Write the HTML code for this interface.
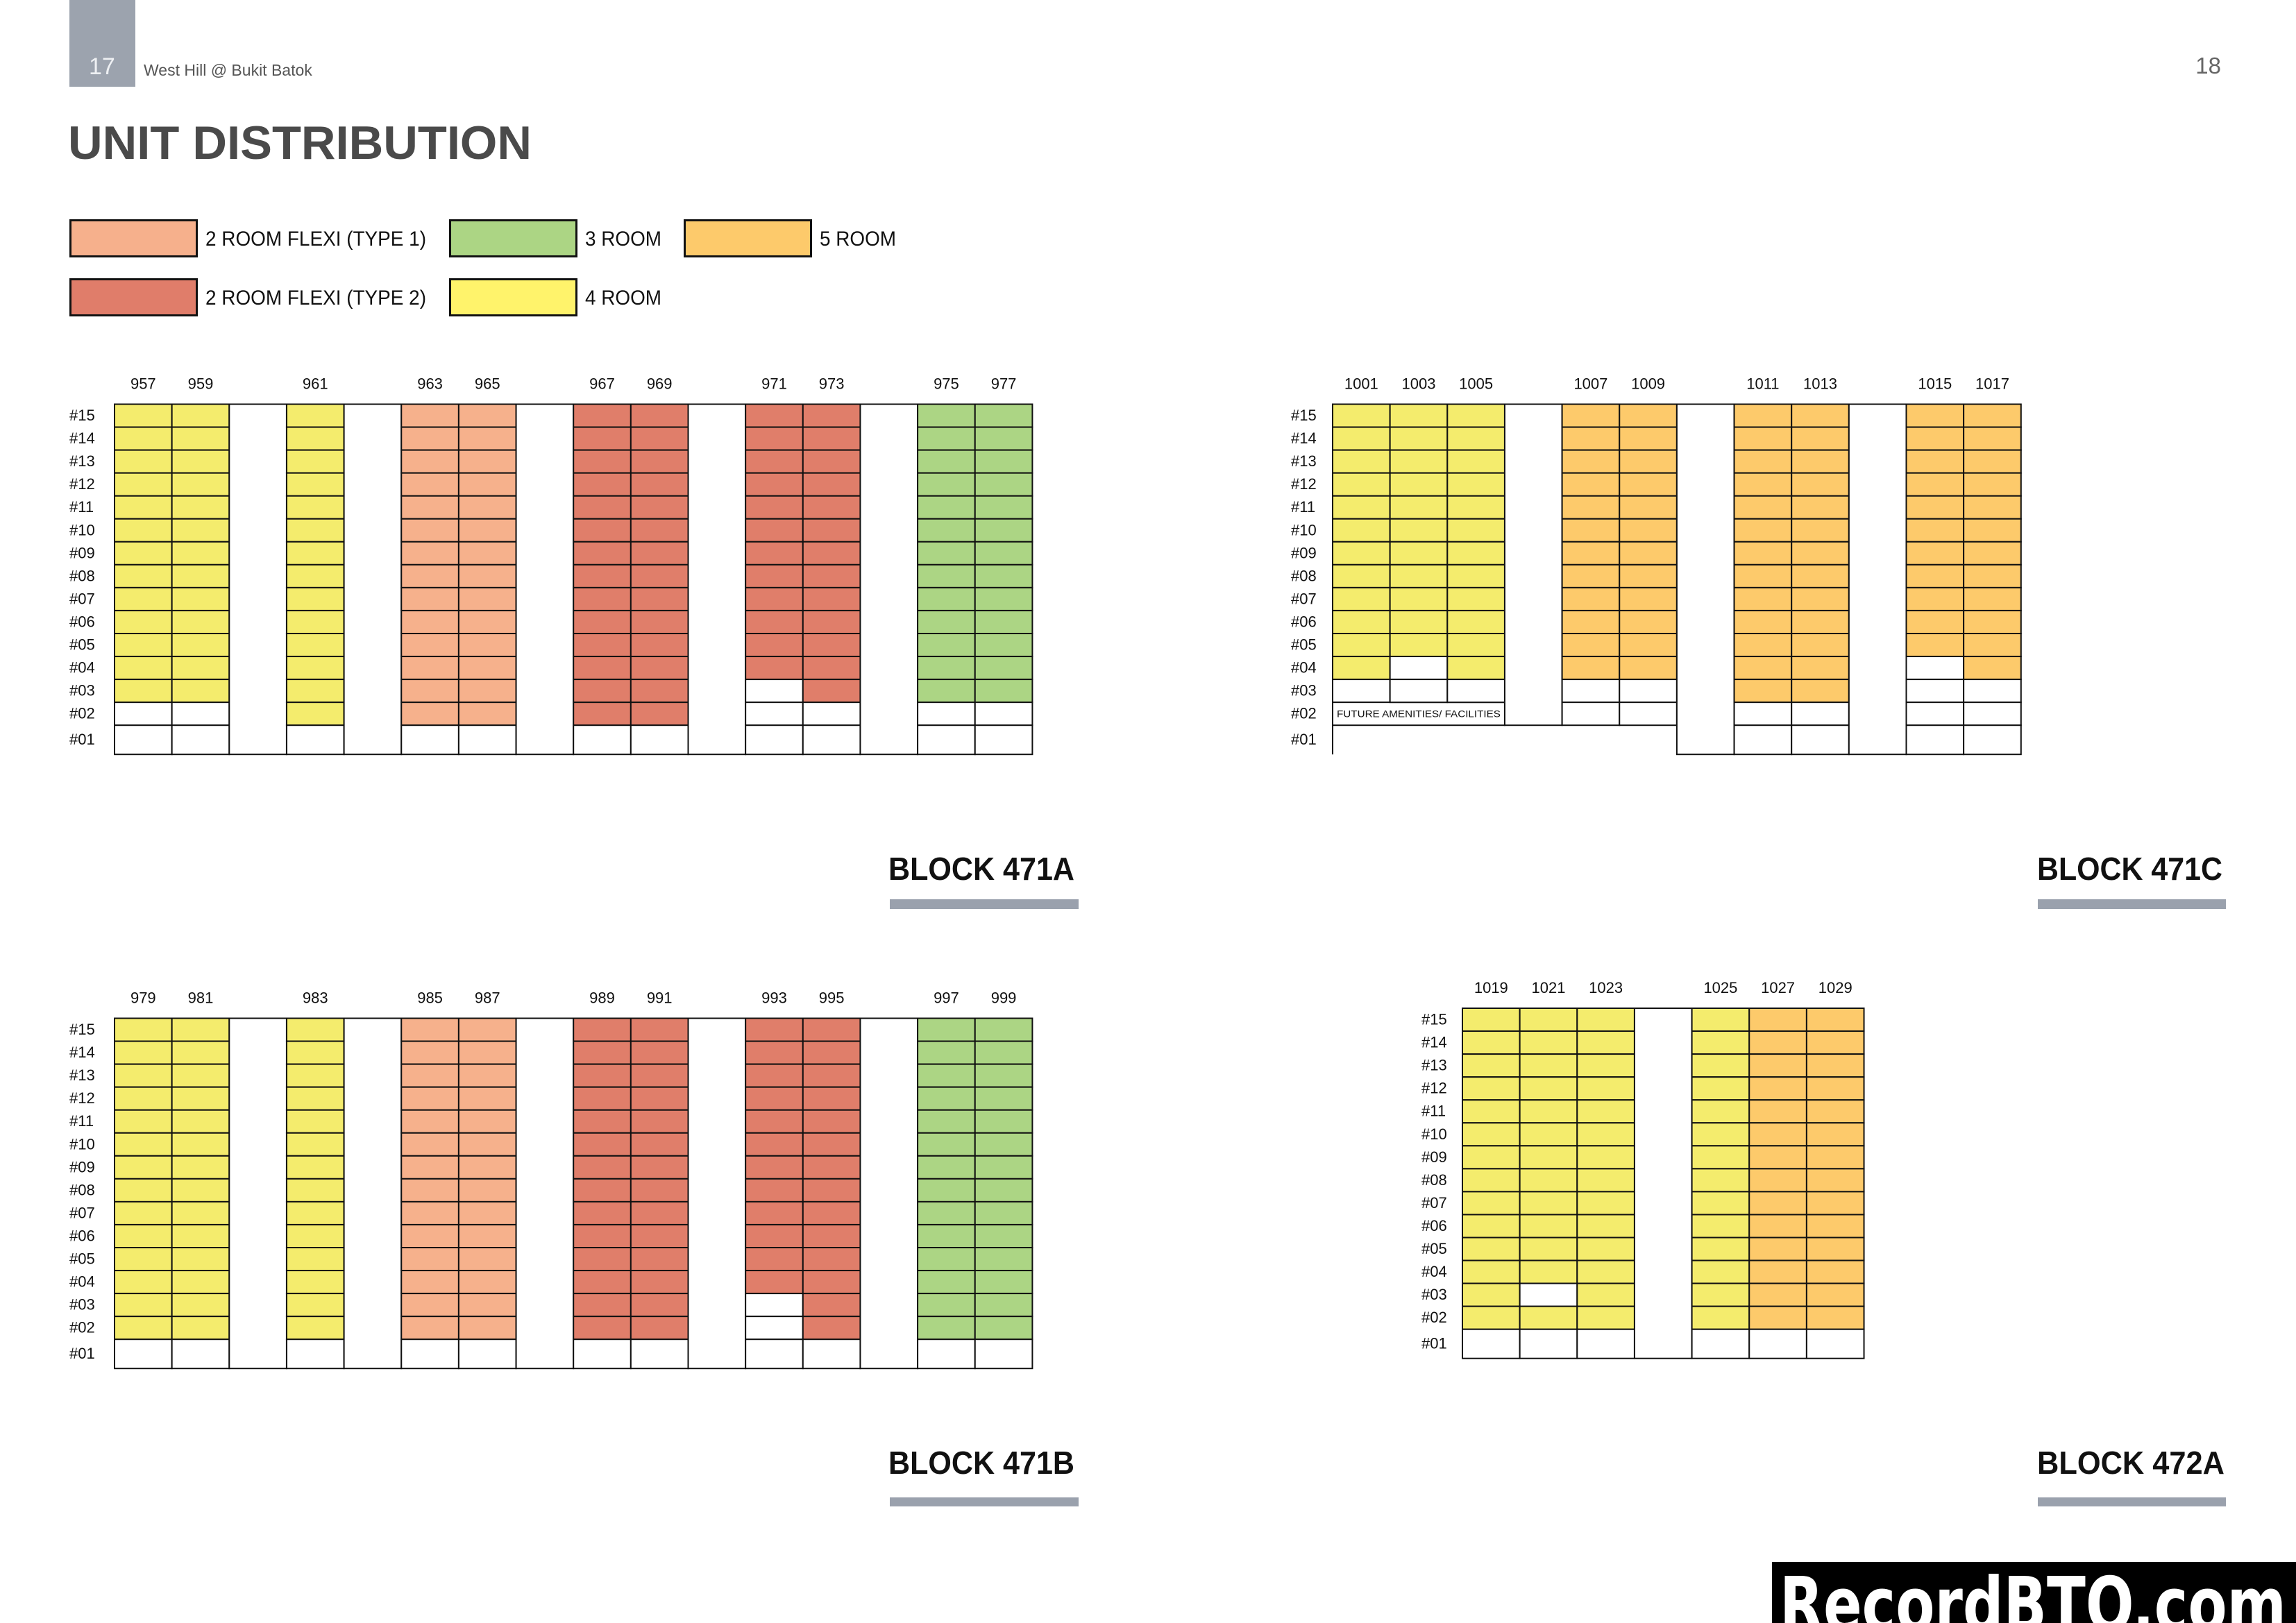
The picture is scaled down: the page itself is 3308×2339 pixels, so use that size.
<!DOCTYPE html>
<html><head><meta charset="utf-8">
<style>
html,body{margin:0;padding:0;background:#fff;}
svg{display:block;font-family:"Liberation Sans",Arial,sans-serif;}
</style></head>
<body>
<svg id="page" xmlns="http://www.w3.org/2000/svg" width="3308" height="2339" viewBox="0 0 3308 2339">
  <rect x="0" y="0" width="3308" height="2339" fill="#fff"/>
  <rect x="100" y="0" width="95" height="125" fill="#9ca3ae"/>
  <text x="128" y="107" font-size="34" fill="#eef0f3">17</text>
  <text x="207" y="109" font-size="23" fill="#555">West Hill @ Bukit Batok</text>
  <text x="3200" y="106" font-size="33" fill="#666" text-anchor="end">18</text>
  <text x="98" y="229" font-size="68" font-weight="bold" fill="#4a4a4a" textLength="668" lengthAdjust="spacingAndGlyphs">UNIT DISTRIBUTION</text>

  <g>
    <g>
      <rect x="101.5" y="317.5" width="182" height="52" fill="#f6b08c" stroke="#111" stroke-width="3"/>
      <text x="296" y="354" font-size="30" fill="#111" textLength="318" lengthAdjust="spacingAndGlyphs">2  ROOM FLEXI (TYPE 1)</text>
    </g>
    <g>
      <rect x="648.5" y="317.5" width="182" height="52" fill="#acd584" stroke="#111" stroke-width="3"/>
      <text x="843" y="354" font-size="30" fill="#111" textLength="110" lengthAdjust="spacingAndGlyphs">3 ROOM</text>
    </g>
    <g>
      <rect x="986.5" y="317.5" width="182" height="52" fill="#fdca6b" stroke="#111" stroke-width="3"/>
      <text x="1181" y="354" font-size="30" fill="#111" textLength="110" lengthAdjust="spacingAndGlyphs">5 ROOM</text>
    </g>
    <g>
      <rect x="101.5" y="402.5" width="182" height="52" fill="#e07d6a" stroke="#111" stroke-width="3"/>
      <text x="296" y="439" font-size="30" fill="#111" textLength="318" lengthAdjust="spacingAndGlyphs">2  ROOM FLEXI (TYPE 2)</text>
    </g>
    <g>
      <rect x="648.5" y="402.5" width="182" height="52" fill="#fff36b" stroke="#111" stroke-width="3"/>
      <text x="843" y="439" font-size="30" fill="#111" textLength="110" lengthAdjust="spacingAndGlyphs">4 ROOM</text>
    </g>
  </g>

  <g id="blocks"></g>

  <g>
    <text x="1280" y="1268" font-size="46" font-weight="bold" fill="#111" textLength="268" lengthAdjust="spacingAndGlyphs">BLOCK 471A</text>
    <rect x="1282" y="1296" width="272" height="14" fill="#9aa1ad"/>
  </g>
  <g>
    <text x="2935" y="1268" font-size="46" font-weight="bold" fill="#111" textLength="267" lengthAdjust="spacingAndGlyphs">BLOCK 471C</text>
    <rect x="2936" y="1296" width="271" height="14" fill="#9aa1ad"/>
  </g>
  <g>
    <text x="1280" y="2124" font-size="46" font-weight="bold" fill="#111" textLength="268" lengthAdjust="spacingAndGlyphs">BLOCK 471B</text>
    <rect x="1282" y="2158" width="272" height="13" fill="#9aa1ad"/>
  </g>
  <g>
    <text x="2935" y="2124" font-size="46" font-weight="bold" fill="#111" textLength="270" lengthAdjust="spacingAndGlyphs">BLOCK 472A</text>
    <rect x="2936" y="2158" width="271" height="13" fill="#9aa1ad"/>
  </g>

  <g>
    <rect x="2553" y="2251" width="755" height="88" fill="#000"/>
    <text x="2564" y="2350" font-size="108" font-weight="bold" fill="#fff" font-family="'DejaVu Sans','Liberation Sans',sans-serif" textLength="730" lengthAdjust="spacingAndGlyphs">RecordBTO.com</text>
  </g>
</svg>
<script>
// Unit data: per column, floors #15 (index 0) down to #01 (index 14).
// Codes: Y=4 room, P=2rm flexi type1, R=2rm flexi type2, G=3 room, O=5 room,
// W=empty cell, F=future amenities, '-'=no cell, x=gap (void) extent.
const floorLabels = ["#15","#14","#13","#12","#11","#10","#09","#08","#07","#06","#05","#04","#03","#02","#01"];

const labels471A = ["957","959","","961","","963","965","","967","969","","971","973","","975","977"];
const units471A = [
  "YYYYYYYYYYYYYWW","YYYYYYYYYYYYYWW","xxxxxxxxxxxxxxx","YYYYYYYYYYYYYYW","xxxxxxxxxxxxxxx",
  "PPPPPPPPPPPPPPW","PPPPPPPPPPPPPPW","xxxxxxxxxxxxxxx","RRRRRRRRRRRRRRW","RRRRRRRRRRRRRRW",
  "xxxxxxxxxxxxxxx","RRRRRRRRRRRRWWW","RRRRRRRRRRRRRWW","xxxxxxxxxxxxxxx","GGGGGGGGGGGGGWW","GGGGGGGGGGGGGWW"];

const labels471B = ["979","981","","983","","985","987","","989","991","","993","995","","997","999"];
const units471B = [
  "YYYYYYYYYYYYYYW","YYYYYYYYYYYYYYW","xxxxxxxxxxxxxxx","YYYYYYYYYYYYYYW","xxxxxxxxxxxxxxx",
  "PPPPPPPPPPPPPPW","PPPPPPPPPPPPPPW","xxxxxxxxxxxxxxx","RRRRRRRRRRRRRRW","RRRRRRRRRRRRRRW",
  "xxxxxxxxxxxxxxx","RRRRRRRRRRRRWWW","RRRRRRRRRRRRRRW","xxxxxxxxxxxxxxx","GGGGGGGGGGGGGGW","GGGGGGGGGGGGGGW"];

const labels471C = ["1001","1003","1005","","1007","1009","","1011","1013","","1015","1017"];
const units471C = [
  "YYYYYYYYYYYYWF-","YYYYYYYYYYYWWF-","YYYYYYYYYYYYWF-","xxxxxxxxxxxxxx-",
  "OOOOOOOOOOOOWW-","OOOOOOOOOOOOWW-","xxxxxxxxxxxxxxx",
  "OOOOOOOOOOOOOWW","OOOOOOOOOOOOOWW","xxxxxxxxxxxxxxx",
  "OOOOOOOOOOOWWWW","OOOOOOOOOOOOWWW"];

const labels472A = ["1019","1021","1023","","1025","1027","1029"];
const units472A = [
  "YYYYYYYYYYYYYYW","YYYYYYYYYYYYWYW","YYYYYYYYYYYYYYW","xxxxxxxxxxxxxxx",
  "YYYYYYYYYYYYYYW","OOOOOOOOOOOOOOW","OOOOOOOOOOOOOOW"];

const colors = {Y:"#f4ec6d",P:"#f6b18c",R:"#e07e6a",G:"#acd584",O:"#fdca6b",W:"#ffffff",F:"#ffffff"};
const NS = "http://www.w3.org/2000/svg";
const colW = 82.65, rowH = 33.05, row1H = 42;
const root = document.getElementById('blocks');

function mk(tag, attrs, parent){
  const e = document.createElementNS(NS, tag);
  for (const k in attrs) e.setAttribute(k, attrs[k]);
  parent.appendChild(e);
  return e;
}
function rowY(top, i){ return top + i*rowH; }
function rowHt(i){ return i === 14 ? row1H : rowH; }

function drawBlock(name, left, top, labelX, labels, units, leftEdgeFull){
  const g = mk('g', {}, root);
  
  
  floorLabels.forEach((fl, i) => {
    const t = mk('text', {x: labelX, y: rowY(top,i) + rowHt(i)/2 + 7, 'font-size': 22, fill: '#111'}, g);
    
    
    t.textContent = fl;
  });
  const bottom = top + 14*rowH + row1H;
  units.forEach((col, c) => {
    const x = left + c*colW;
    if (labels[c]) {
      const t = mk('text', {x: x + colW/2, y: top - 22, 'font-size': 22, fill: '#111', 'text-anchor': 'middle'}, g);
      
      
      t.textContent = labels[c];
    }
    if (col[0] === 'x') {
      const n = col.split('').filter(ch => ch === 'x').length;
      const h = n === 15 ? bottom - top : n*rowH;
      const r = mk('rect', {x: x, y: top, width: colW, height: h, fill: '#fff', stroke: '#111', 'stroke-width': 2}, g);
      
      
      return;
    }
    for (let i = 0; i < 15; i++) {
      const code = col[i];
      if (code === '-') continue;
      if (code === 'F') {
        if (c > 0 && units[c-1][i] === 'F') continue;
        let span = 1;
        while (units[c+span] && units[c+span][i] === 'F') span++;
        const r = mk('rect', {x: x, y: rowY(top,i), width: span*colW, height: rowHt(i), fill: '#fff', stroke: '#111', 'stroke-width': 2}, g);
        
        
        const t = mk('text', {x: x + 6, y: rowY(top,i) + rowHt(i)/2 + 5, 'font-size': 14, fill: '#111', textLength: span*colW - 12, lengthAdjust: 'spacingAndGlyphs'}, g);
        
        
        t.textContent = 'FUTURE AMENITIES/ FACILITIES';
        continue;
      }
      const r = mk('rect', {x: x, y: rowY(top,i), width: colW, height: rowHt(i), fill: colors[code], stroke: '#111', 'stroke-width': 2}, g);
      
      
    }
  });
  mk('line', {x1: left, y1: top, x2: left + units.length*colW, y2: top, stroke: '#111', 'stroke-width': 2}, g);
  if (leftEdgeFull) {
    const l = mk('line', {x1: left, y1: top, x2: left, y2: bottom, stroke: '#111', 'stroke-width': 2}, g);
    
    
  }
}

drawBlock('block-471a-grid', 165, 582.5, 100, labels471A, units471A, false);
drawBlock('block-471b-grid', 165, 1467.5, 100, labels471B, units471B, false);
drawBlock('block-471c-grid', 1920, 582.5, 1860, labels471C, units471C, true);
drawBlock('block-472a-grid', 2107, 1453, 2048, labels472A, units472A, false);
</script>
</body></html>
